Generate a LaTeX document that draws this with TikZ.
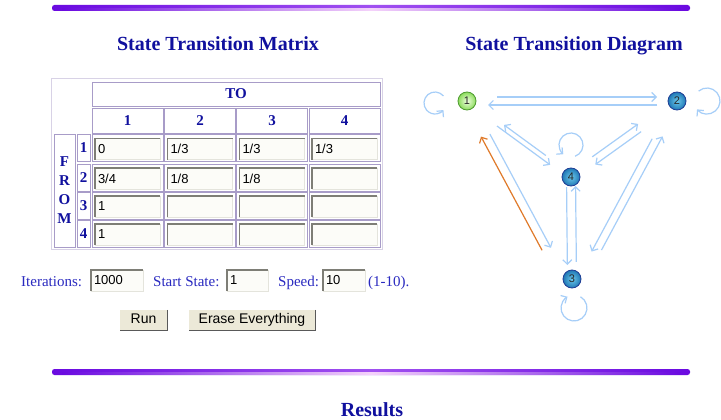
\documentclass[tikz,border=0pt]{standalone}
\usepackage{fontspec}
\setmainfont{Liberation Serif}
\setsansfont{Liberation Sans}
\usetikzlibrary{arrows.meta,calc}

\definecolor{headblue}{HTML}{10109E}
\definecolor{labelblue}{HTML}{2A2AC0}
\definecolor{cellline}{HTML}{A89CC8}
\definecolor{fieldline}{HTML}{7E7E76}
\definecolor{fieldrim}{HTML}{E4E4DC}
\definecolor{fieldbg}{HTML}{FCFCF8}
\definecolor{btnbg}{HTML}{ECE9D8}
\definecolor{barpurple}{HTML}{6A0AE0}
\definecolor{barmid}{HTML}{A050F0}
\definecolor{barlight}{HTML}{F4D2FA}
\definecolor{arrowblue}{HTML}{A6CEF8}
\definecolor{hitorange}{HTML}{E07A2A}
\definecolor{stateinner}{HTML}{6CC8EC}
\definecolor{stateouter}{HTML}{1F78B4}
\definecolor{stateline}{HTML}{1E3C94}
\definecolor{greeninner}{HTML}{F0FFE0}
\definecolor{greenouter}{HTML}{8CDC5C}
\definecolor{greenline}{HTML}{4E9A30}

\begin{document}
\begin{tikzpicture}[x=1pt,y=-1pt,
    title/.style={font=\fontsize{20}{24}\selectfont\bfseries, text=headblue, anchor=base},
    head/.style={font=\fontsize{15}{19}\selectfont\bfseries, text=headblue},
    cell/.style={draw=cellline, line width=0.9pt, inner sep=0pt},
    field/.style={draw=fieldrim, fill=fieldbg, minimum height=21pt, inner xsep=3pt,
      inner ysep=0pt, align=left, font=\sffamily\fontsize{13}{15}\selectfont},
    fieldedge/.style={draw=fieldline, line width=1.6pt},
    formtext/.style={font=\fontsize{15}{18}\selectfont, text=labelblue, inner sep=0pt, anchor=base west},
    button/.style={fill=btnbg, minimum height=20pt, inner sep=0pt, text height=10pt, text depth=3pt,
      font=\sffamily\fontsize{14}{16}\selectfont},
    state/.style={circle, draw=stateline, line width=0.8pt, inner color=stateinner, outer color=stateouter,
      minimum size=18pt, inner sep=0pt, text=black!85, font=\sffamily\fontsize{11}{12}\selectfont},
    trans/.style={line width=1.2pt, -{Straight Barb[length=4.5pt,width=9pt]}},
    selfloop/.style={trans, draw=arrowblue}]

  \useasboundingbox[fill=white] (0,0) rectangle (721,420);

  % top and bottom bars
  \foreach \y in {5,369} {
    \shade[rounded corners=2.5pt, left color=barpurple, right color=barpurple, middle color=barmid]
      (52,\y) rectangle (690,\y+6);
    \shade[left color=barpurple, right color=barpurple, middle color=barlight]
      (62,\y+3.5) rectangle (680,\y+5.5);
  }

  \node[title] (mtitle) at (218,51) {State Transition Matrix};
  \node[title] (dtitle) at (574,51) {State Transition Diagram};
  \node[title] (results) at (372,416) {Results};

  % matrix table
  \draw[cellline!45, line width=0.8pt] (51,78) rectangle (382,249);
  \node[cell, head, minimum width=288pt, minimum height=24pt] (to) at (236,94) {TO};
  \foreach \k/\x in {1/127.5,2/200,3/272,4/344.5}
    \node[cell, head, minimum width=71pt, minimum height=25pt] (h\k) at (\x,120.5) {\k};
  \node[cell, head, minimum width=21pt, minimum height=113pt, align=center] (from) at (64.5,190.5)
    {F\\R\\O\\M};

  \foreach \r/\y/\a/\b/\c/\d in {1/148/0/{1/3}/{1/3}/{1/3}, 2/177.5/{3/4}/{1/8}/{1/8}/{},
      3/205.5/1/{}/{}/{}, 4/233.5/1/{}/{}/{}} {
    \node[cell, head, minimum width=13pt, minimum height=27pt] (r\r) at (83.5,\y) {\r};
    \foreach \k/\x/\v in {1/127.5/\a, 2/200/\b, 3/272/\c, 4/344.5/\d} {
      \node[cell, minimum width=71pt, minimum height=27pt] (c\r\k) at (\x,\y) {};
      \node[field, text width=59pt] (f\r\k) at ([yshift=-1pt]c\r\k.center) {\v};
      \draw[fieldedge] (f\r\k.south west) -- (f\r\k.north west) -- (f\r\k.north east);
    }
  }

  % form below the table
  \node[formtext] (iterlabel) at (21,286) {Iterations:};
  \node[field, text width=46pt] (iter) at (117,280.5) {1000};
  \node[formtext] (startlabel) at (153,286) {Start State:};
  \node[field, text width=35pt] (start) at (247.5,280.5) {1};
  \node[formtext] (speedlabel) at (278,286) {Speed:};
  \node[field, text width=36pt] (speed) at (344,280.5) {10};
  \node[formtext] (range) at (368,286) {(1-10).};
  \foreach \f in {iter,start,speed}
    \draw[fieldedge] (\f.south west) -- (\f.north west) -- (\f.north east);

  \node[button, minimum width=47pt] (run) at (143.5,320) {Run};
  \node[button, minimum width=126pt] (erase) at (252,320) {Erase Everything};
  \foreach \b in {run,erase} {
    \draw[white, line width=1.2pt] (\b.south west) -- (\b.north west) -- (\b.north east);
    \draw[black!65, line width=1.2pt] (\b.north east) -- (\b.south east) -- (\b.south west);
  }

  % state diagram
  \node[state, inner color=greeninner, outer color=greenouter, draw=greenline] (n1) at (467,101) {1};
  \node[state] (n2) at (677,101) {2};
  \node[state] (n4) at (571,177) {4};
  \node[state] (n3) at (572,279) {3};

  \foreach \a/\b/\s/\o/\p/\q/\col in {
      n1/n2/90/4pt/30pt/20pt/arrowblue, n2/n1/90/4pt/20pt/21pt/arrowblue,
      n1/n4/-90/2.5pt/39pt/24pt/arrowblue, n4/n1/-90/2.5pt/33pt/44pt/arrowblue,
      n1/n3.west/90/4.5pt/40pt/33pt/arrowblue, n3.west/n1/90/4.5pt/35pt/38pt/hitorange,
      n2/n4/90/4pt/47pt/27pt/arrowblue, n4/n2/90/4pt/29pt/45pt/arrowblue,
      n2/n3.east/-90/4pt/45pt/29pt/arrowblue, n3.east/n2/-90/4pt/35pt/38pt/arrowblue,
      n4/n3/-90/4.5pt/10pt/14pt/arrowblue, n3/n4/-90/4.5pt/17pt/9pt/arrowblue}
    \draw[trans, draw=\col, shorten <=\p, shorten >=\q]
      ($(\a)!\o!\s:(\b)$) -- ($(\b)!-\o!\s:(\a)$);

  \coordinate (loop1) at ($(n1)+(-32,2)$);
  \coordinate (loop2) at ($(n2)+(30,0)$);
  \coordinate (loop4) at ($(n4)+(0,-32)$);
  \coordinate (loop3) at ($(n3)+(2,29)$);
  \draw[selfloop] (loop1) ++(-40:11) arc[start angle=-40, end angle=-320, radius=11];
  \draw[selfloop] (loop2) ++(-130:13) arc[start angle=-130, end angle=140, radius=13];
  \draw[selfloop] (loop4) ++(70:12) arc[start angle=70, end angle=-230, radius=12];
  \draw[selfloop] (loop3) ++(-60:13) arc[start angle=-60, end angle=240, radius=13];
\end{tikzpicture}
\end{document}
